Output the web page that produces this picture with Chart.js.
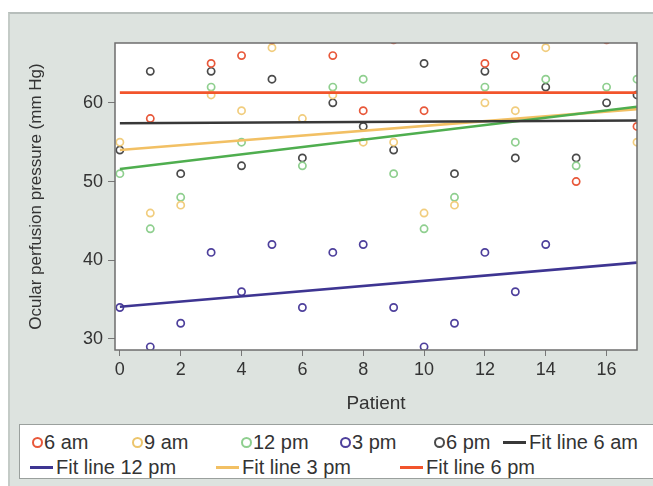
<!DOCTYPE html>
<html>
<head>
<meta charset="utf-8">
<script src="https://cdn.jsdelivr.net/npm/chart.js@4.4.1/dist/chart.umd.min.js"></script>
<style>
  body { margin: 0; background: #fff; font-family: "Liberation Sans", Arial, sans-serif; }
  #panel { position: absolute; left: 8px; top: 12px; width: 645px; height: 474px;
           background: #dde3df; border-top: 2px solid #b7bebb; border-left: 2px solid #c4cbc7; box-sizing: border-box; }
  #wrap { position: absolute; left: 8px; top: 12px; width: 645px; height: 410px; }
  #legend { position: absolute; left: 19px; top: 424px; width: 660px; height: 55px;
            background: #fff; border: 1px solid #9aa09d; box-sizing: border-box; }
  .item { position: absolute; font-size: 20px; color: #333; white-space: nowrap; line-height: 24px; }
  .dot { position: absolute; width: 7px; height: 7px; border: 2px solid; border-radius: 50%; }
  .bar { position: absolute; height: 3px; }
</style>
</head>
<body>
<div id="panel"></div>
<div id="wrap"><canvas id="chart" width="645" height="410"></canvas></div>
<div id="legend"></div>

<script>
// 患者番号 (x)
const patients = [0, 1, 2, 3, 4, 5, 6, 7, 8, 9, 10, 11, 12, 13, 14, 15, 16, 17];

// 時刻ごとの眼灌流圧 (null = 見えない点)
const am6  = [null, 58, null, 65, 66, 68, null, 66, 59, 68, 59, null, 65, 66, null, 50, 68, 57];
const am9  = [55, 46, 47, 61, 59, 67, 58, 61, 55, 55, 46, 47, 60, 59, 67, null, null, 55];
const pm12 = [51, 44, 48, 62, 55, null, 52, 62, 63, 51, 44, 48, 62, 55, 63, 52, 62, 63];
const pm3  = [34, 29, 32, 41, 36, 42, 34, 41, 42, 34, 29, 32, 41, 36, 42, null, null, null];
const pm6  = [54, 64, 51, 64, 52, 63, 53, 60, 57, 54, 65, 51, 64, 53, 62, 53, 60, 61];

const seriesNames = ['6 am', '9 am', '12 pm', '3 pm', '6 pm'];
const seriesColors = ['#e8583a', '#f1cd7e', '#8fcf8f', '#4e409c', '#4a4a4a'];

// 回帰直線 (x = 0 と x = 17 の値)
const fitX = [0, 17];
const fitNames = ['Fit line 6 am', 'Fit line 9 am', 'Fit line 12 pm', 'Fit line 3 pm', 'Fit line 6 pm'];
const fitStart = [57.4, 51.6, 34.1, 54.0, 61.3];
const fitEnd = [57.75, 59.5, 39.7, 59.2, 61.3];
const fitColors = ['#383838', '#4fae4f', '#3e3592', '#f2c064', '#f2542c'];
const fitInLegend = [true, false, true, true, true];

// 軸の目盛り
const xTicks = [0, 2, 4, 6, 8, 10, 12, 14, 16];
const yTicks = [30, 40, 50, 60];

const allSeries = [am6, am9, pm12, pm3, pm6];

const toPoints = vals => patients
    .map((p, i) => vals[i] === null ? null : { x: p, y: vals[i] })
    .filter(p => p);

const datasets = [];
allSeries.forEach((vals, i) => {
    datasets.push({
        type: 'scatter',
        label: seriesNames[i],
        data: toPoints(vals),
        borderColor: seriesColors[i],
        backgroundColor: 'rgba(0,0,0,0)',
        pointRadius: 3.6,
        pointBorderWidth: 1.7,
        order: 2
    });
});
fitNames.forEach((name, i) => {
    datasets.push({
        type: 'line',
        label: name,
        data: [{ x: fitX[0], y: fitStart[i] }, { x: fitX[1], y: fitEnd[i] }],
        borderColor: fitColors[i],
        borderWidth: 2.6,
        pointRadius: 0,
        order: 1
    });
});

// プロット領域の白背景と枠
const plotBox = {
    id: 'plotBox',
    beforeDatasetsDraw(chart) {
        const { ctx, chartArea: a } = chart;
        ctx.save();
        ctx.fillStyle = '#fff';
        ctx.fillRect(a.left, a.top, a.right - a.left, a.bottom - a.top);
        ctx.restore();
    },
    afterDraw(chart) {
        const { ctx, chartArea: a } = chart;
        ctx.save();
        ctx.strokeStyle = '#6e6e6e';
        ctx.lineWidth = 1.5;
        ctx.strokeRect(a.left, a.top, a.right - a.left, a.bottom - a.top);
        ctx.restore();
    }
};

const tickFont = { family: '"Liberation Sans", Arial, sans-serif', size: 18 };

new Chart(document.getElementById('chart'), {
    data: { datasets: datasets },
    plugins: [plotBox],
    options: {
        responsive: false,
        animation: false,
        layout: { padding: { left: 14, top: 31, right: 16, bottom: 3 } },
        plugins: { legend: { display: false }, tooltip: { enabled: false } },
        scales: {
            x: {
                type: 'linear',
                min: -0.16,
                max: 17,
                afterBuildTicks: s => { s.ticks = xTicks.map(v => ({ value: v })); },
                afterFit: s => { s.height = 69; },
                ticks: { color: '#333', font: tickFont, padding: 3 },
                grid: { drawOnChartArea: false, tickLength: 6, color: '#777' },
                border: { display: false },
                title: { display: true, text: 'Patient', color: '#333', font: { family: tickFont.family, size: 19 } }
            },
            y: {
                type: 'linear',
                min: 28.6,
                max: 67.6,
                afterBuildTicks: s => { s.ticks = yTicks.map(v => ({ value: v })); },
                afterFit: s => { s.width = 93; },
                ticks: { color: '#333', font: tickFont, padding: 5 },
                grid: { drawOnChartArea: false, tickLength: 7, color: '#777' },
                border: { display: false },
                title: { display: true, text: 'Ocular perfusion pressure (mm Hg)', color: '#333', font: { family: tickFont.family, size: 17 } }
            }
        }
    }
});

// 凡例 (HTML)
const legendPos = [
    { x: 31, y: 17 }, { x: 131, y: 17 }, { x: 240, y: 17 }, { x: 339, y: 17 }, { x: 433, y: 17 },
    { x: 502, y: 17 }, { x: 29, y: 42 }, { x: 215, y: 42 }, { x: 399, y: 42 }
];
const legendItems = [];
seriesNames.forEach((n, i) => legendItems.push({ label: n, color: seriesColors[i], kind: 'dot' }));
fitNames.forEach((n, i) => { if (fitInLegend[i]) legendItems.push({ label: n, color: fitColors[i], kind: 'bar' }); });

const legend = document.getElementById('legend');
legendItems.forEach((it, i) => {
    const p = legendPos[i];
    const left = p.x - 19, mid = p.y;
    if (it.kind === 'dot') {
        const d = document.createElement('div');
        d.className = 'dot';
        d.style.borderColor = it.color === '#f1cd7e' ? '#ecc56c' : it.color;
        d.style.left = left + 'px';
        d.style.top = (mid - 5) + 'px';
        legend.appendChild(d);
    } else {
        const b = document.createElement('div');
        b.className = 'bar';
        b.style.background = it.color;
        b.style.left = left + 'px';
        b.style.width = '23px';
        b.style.top = (mid - 1) + 'px';
        legend.appendChild(b);
    }
    const t = document.createElement('div');
    t.className = 'item';
    t.textContent = it.label;
    t.style.left = (left + (it.kind === 'dot' ? 12 : 26)) + 'px';
    t.style.top = (mid - 12) + 'px';
    legend.appendChild(t);
});
</script>
</body>
</html>
